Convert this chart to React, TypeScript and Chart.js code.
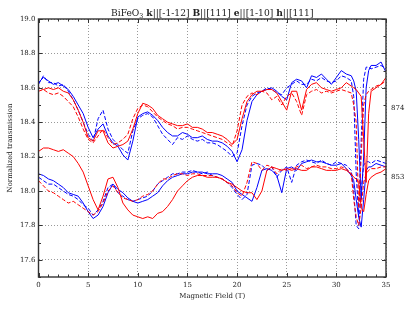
import React, { useEffect, useRef } from "react";
import { Chart, registerables } from "chart.js";

Chart.register(...registerables);

// Magnetic field (T)
const field = [
  0, 0.5, 1, 1.5, 2, 2.5, 3, 3.5, 4, 4.5,
  5, 5.5, 6, 6.5, 7, 7.5, 8, 8.5, 9, 9.5,
  10, 10.5, 11, 11.5, 12, 12.5, 13, 13.5, 14, 14.5,
  15, 15.5, 16, 16.5, 17, 17.5, 18, 18.5, 19, 19.5,
  20, 20.5, 21, 21.5, 22, 22.5, 23, 23.5, 24, 24.5,
  25, 25.5, 26, 26.5, 27, 27.5, 28, 28.5, 29, 29.5,
  30, 30.5, 31, 31.5,
  31.75, 32, 32.25, 32.5, 32.75, 33, 33.25, 33.5,
  34, 34.5, 35,
];

// 874 group
const blue874Solid = [
  18.63, 18.66, 18.64, 18.62, 18.63, 18.61, 18.59, 18.55, 18.50, 18.45,
  18.37, 18.31, 18.36, 18.39, 18.32, 18.28, 18.26, 18.21, 18.18, 18.29,
  18.43, 18.45, 18.46, 18.44, 18.41, 18.37, 18.34, 18.32, 18.32, 18.34,
  18.33, 18.31, 18.31, 18.32, 18.30, 18.29, 18.29, 18.28, 18.26, 18.23,
  18.17, 18.24, 18.41, 18.52, 18.56, 18.58, 18.59, 18.60, 18.58, 18.55,
  18.53, 18.63, 18.65, 18.64, 18.60, 18.67, 18.66, 18.68, 18.65, 18.62,
  18.66, 18.70, 18.68, 18.67,
  18.64, 18.58, 18.30, 17.95, 18.20, 18.60, 18.70, 18.73,
  18.73, 18.75, 18.69,
];
const blue874Dashed = [
  18.62, 18.67, 18.63, 18.63, 18.61, 18.62, 18.58, 18.53, 18.47, 18.40,
  18.33, 18.29, 18.42, 18.47, 18.36, 18.30, 18.27, 18.24, 18.22, 18.35,
  18.42, 18.44, 18.45, 18.43, 18.38, 18.33, 18.30, 18.27, 18.31, 18.30,
  18.32, 18.30, 18.29, 18.30, 18.28, 18.28, 18.27, 18.25, 18.23, 18.20,
  18.22, 18.38, 18.50, 18.55, 18.57, 18.58, 18.60, 18.59, 18.57, 18.56,
  18.60, 18.62, 18.64, 18.62, 18.62, 18.65, 18.64, 18.66, 18.64, 18.63,
  18.64, 18.67, 18.66, 18.64,
  18.55, 18.10, 17.85, 18.30, 18.65, 18.72, 18.72, 18.71,
  18.72, 18.73, 18.71,
];
const red874Solid = [
  18.60, 18.59, 18.60, 18.59, 18.60, 18.58, 18.57, 18.53, 18.47, 18.40,
  18.31, 18.29, 18.35, 18.35, 18.28, 18.25, 18.26, 18.27, 18.29, 18.36,
  18.45, 18.51, 18.50, 18.48, 18.44, 18.42, 18.40, 18.39, 18.38, 18.38,
  18.39, 18.37, 18.37, 18.36, 18.34, 18.34, 18.33, 18.32, 18.30, 18.27,
  18.30, 18.42, 18.52, 18.56, 18.58, 18.58, 18.59, 18.59, 18.57, 18.52,
  18.47, 18.58, 18.58, 18.47, 18.59, 18.62, 18.63, 18.60, 18.59, 18.58,
  18.59, 18.60, 18.63, 18.61,
  18.60, 18.59, 18.57, 18.55, 18.30, 18.05, 18.45, 18.58,
  18.60, 18.62, 18.66,
];
const red874Dashed = [
  18.58, 18.59, 18.57, 18.56, 18.57, 18.55, 18.52, 18.49, 18.43, 18.36,
  18.30, 18.28, 18.32, 18.36, 18.31, 18.27, 18.28, 18.30, 18.33, 18.42,
  18.48, 18.50, 18.49, 18.46, 18.43, 18.41, 18.39, 18.38, 18.36, 18.37,
  18.37, 18.36, 18.35, 18.34, 18.33, 18.32, 18.31, 18.30, 18.28, 18.26,
  18.35, 18.50, 18.55, 18.57, 18.56, 18.58, 18.57, 18.53, 18.55, 18.50,
  18.55, 18.57, 18.52, 18.44, 18.56, 18.58, 18.59, 18.57, 18.58, 18.57,
  18.58, 18.59, 18.58, 18.57,
  18.50, 18.40, 17.90, 18.20, 18.50, 18.56, 18.58, 18.59,
  18.61, 18.62, 18.64,
];

// 853 group
const blue853Solid = [
  18.10, 18.09, 18.07, 18.06, 18.04, 18.02, 17.99, 17.98, 17.97, 17.93,
  17.88, 17.84, 17.86, 17.91, 17.99, 18.04, 18.01, 17.99, 17.96, 17.94,
  17.93, 17.94, 17.95, 17.97, 17.99, 18.03, 18.06, 18.08, 18.09, 18.10,
  18.10, 18.11, 18.11, 18.11, 18.10, 18.10, 18.10, 18.09, 18.07, 18.05,
  18.00, 17.98, 17.96, 17.94, 18.02, 18.12, 18.13, 18.12, 18.09, 17.99,
  18.13, 18.14, 18.12, 18.16, 18.17, 18.18, 18.17, 18.17, 18.16, 18.15,
  18.15, 18.16, 18.13, 18.09,
  18.06, 17.95, 17.85, 17.79, 17.95, 18.12, 18.14, 18.14,
  18.16, 18.15, 18.14,
];
const blue853Dashed = [
  18.08, 18.06, 18.04, 18.04, 18.02, 18.00, 17.98, 17.97, 17.95, 17.92,
  17.90, 17.86, 17.89, 17.94, 18.02, 18.04, 17.99, 17.97, 17.95, 17.94,
  17.95, 17.96, 17.97, 18.00, 18.04, 18.06, 18.08, 18.10, 18.10, 18.11,
  18.11, 18.12, 18.11, 18.10, 18.11, 18.09, 18.08, 18.07, 18.05, 18.02,
  17.98, 17.95, 17.98, 18.15, 18.16, 18.15, 18.12, 18.14, 18.08, 18.12,
  18.14, 18.05, 18.15, 18.17, 18.18, 18.17, 18.16, 18.18, 18.16, 18.15,
  18.17, 18.16, 18.15, 18.12,
  18.00, 17.80, 17.78, 18.00, 18.15, 18.17, 18.17, 18.16,
  18.18, 18.17, 18.16,
];
const red853Solid = [
  18.23, 18.25, 18.25, 18.24, 18.23, 18.24, 18.22, 18.20, 18.16, 18.11,
  18.03, 17.95, 17.89, 17.97, 18.07, 18.08, 18.02, 17.93, 17.89, 17.86,
  17.85, 17.84, 17.85, 17.84, 17.87, 17.88, 17.91, 17.95, 18.00, 18.03,
  18.06, 18.08, 18.09, 18.09, 18.08, 18.08, 18.08, 18.07, 18.05, 18.04,
  18.02, 18.00, 17.99, 17.99, 17.95, 18.00, 18.12, 18.14, 18.13, 18.12,
  18.13, 18.12, 18.13, 18.12, 18.12, 18.14, 18.14, 18.13, 18.12, 18.12,
  18.12, 18.13, 18.12, 18.10,
  18.08, 18.07, 18.05, 17.90, 17.88, 17.98, 18.06, 18.08,
  18.10, 18.11, 18.13,
];
const red853Dashed = [
  18.06, 18.03, 18.00, 17.99, 17.97, 17.95, 17.93, 17.94, 17.92, 17.90,
  17.88, 17.86, 17.88, 17.93, 18.00, 18.03, 17.99, 17.96, 17.95, 17.94,
  17.95, 17.97, 17.98, 18.00, 18.04, 18.07, 18.07, 18.09, 18.10, 18.10,
  18.09, 18.10, 18.10, 18.09, 18.09, 18.09, 18.08, 18.07, 18.05, 18.03,
  17.99, 17.97, 18.05, 18.17, 18.16, 18.12, 18.15, 18.14, 18.10, 18.13,
  18.12, 18.13, 18.14, 18.15, 18.13, 18.14, 18.15, 18.14, 18.14, 18.13,
  18.13, 18.14, 18.13, 18.10,
  17.95, 17.85, 17.80, 17.90, 18.05, 18.10, 18.12, 18.13,
  18.13, 18.14, 18.14,
];

const xTicks = [0, 5, 10, 15, 20, 25, 30, 35];
const yTicks = [17.6, 17.8, 18.0, 18.2, 18.4, 18.6, 18.8, 19.0];
const groupLabels = ["874", "853"];
const groupLabelValues = [18.484, 18.079];

const titleParts = [
  { text: "BiFeO", bold: false, sub: false },
  { text: "3", bold: false, sub: true },
  { text: " ", bold: false, sub: false },
  { text: "k", bold: true, sub: false },
  { text: "||[-1-12] ", bold: false, sub: false },
  { text: "B", bold: true, sub: false },
  { text: "||[111] ", bold: false, sub: false },
  { text: "e", bold: true, sub: false },
  { text: "||[1-10] ", bold: false, sub: false },
  { text: "h", bold: true, sub: false },
  { text: "||[111]", bold: false, sub: false },
];

const FONT = '"DejaVu Serif", "Liberation Serif", serif';
const TEXT = "#222";

const framePlugin = {
  id: "framePlugin",
  afterDraw(chart: any) {
    const { ctx, chartArea: a, scales } = chart;
    const xs = scales.x;
    const ys = scales.y;
    ctx.save();
    // inward ticks
    ctx.strokeStyle = "#333";
    ctx.lineWidth = 1;
    ctx.beginPath();
    for (let v = 0; v <= 35; v += 1) {
      const px = Math.round(xs.getPixelForValue(v)) + 0.5;
      const len = v % 5 === 0 ? 4 : 2.5;
      ctx.moveTo(px, a.bottom);
      ctx.lineTo(px, a.bottom - len);
      ctx.moveTo(px, a.top);
      ctx.lineTo(px, a.top + len);
    }
    for (let k = 175; k <= 190; k += 1) {
      const v = k / 10;
      const py = Math.round(ys.getPixelForValue(v)) + 0.5;
      const len = k % 2 === 0 ? 4 : 2.5;
      ctx.moveTo(a.left, py);
      ctx.lineTo(a.left + len, py);
      ctx.moveTo(a.right, py);
      ctx.lineTo(a.right - len, py);
    }
    ctx.stroke();
    // frame
    ctx.lineWidth = 1.4;
    ctx.strokeStyle = "#333";
    ctx.strokeRect(a.left, a.top, a.right - a.left, a.bottom - a.top);

    // title
    const baseSize = 10;
    const measure = (size: number) => {
      let w = 0;
      for (const p of titleParts) {
        const s = p.sub ? size * 0.7 : size;
        ctx.font = `${p.bold ? "bold " : ""}${s}px ${FONT}`;
        w += ctx.measureText(p.text).width;
      }
      return w;
    };
    let size = baseSize;
    const w0 = measure(baseSize);
    size = baseSize * Math.min(1.1, 203 / w0);
    const total = measure(size);
    let x = (a.left + a.right) / 2 - total / 2;
    const baseY = 15.5;
    ctx.fillStyle = TEXT;
    ctx.textBaseline = "alphabetic";
    ctx.textAlign = "left";
    for (const p of titleParts) {
      const s = p.sub ? size * 0.7 : size;
      ctx.font = `${p.bold ? "bold " : ""}${s}px ${FONT}`;
      ctx.fillText(p.text, x, p.sub ? baseY + 2 : baseY);
      x += ctx.measureText(p.text).width;
    }

    // group labels
    ctx.font = `7px ${FONT}`;
    ctx.textBaseline = "middle";
    groupLabels.forEach((t, i) => {
      ctx.fillText(t, a.right + 5, ys.getPixelForValue(groupLabelValues[i]));
    });
    ctx.restore();
  },
};

function mk(label: string, data: number[], color: string, dashed: boolean) {
  return {
    label,
    data: field.map((x, i) => ({ x, y: data[i] })),
    borderColor: color,
    backgroundColor: color,
    borderWidth: 1,
    borderDash: dashed ? [4, 2] : [],
    pointRadius: 0,
    fill: false,
    tension: 0,
  };
}

export default function App() {
  const ref = useRef<HTMLCanvasElement | null>(null);
  useEffect(() => {
    if (!ref.current) return;
    const chart = new Chart(ref.current, {
      type: "line",
      data: {
        datasets: [
          mk("874 red", red874Solid, "#ff0000", false),
          mk("874 red dashed", red874Dashed, "#ff0000", true),
          mk("853 red", red853Solid, "#ff0000", false),
          mk("853 red dashed", red853Dashed, "#ff0000", true),
          mk("874 blue", blue874Solid, "#0000ff", false),
          mk("874 blue dashed", blue874Dashed, "#0000ff", true),
          mk("853 blue", blue853Solid, "#0000ff", false),
          mk("853 blue dashed", blue853Dashed, "#0000ff", true),
        ] as any,
      },
      options: {
        animation: false,
        responsive: false,
        devicePixelRatio: 1,
        layout: { padding: { left: 0, top: 19, right: 29, bottom: 0 } },
        plugins: {
          legend: { display: false },
          tooltip: { enabled: false },
        },
        scales: {
          x: {
            type: "linear",
            min: 0,
            max: 35,
            afterBuildTicks: (axis: any) => {
              axis.ticks = xTicks.map((v) => ({ value: v }));
            },
            afterFit: (axis: any) => {
              axis.height = 33;
            },
            ticks: {
              color: TEXT,
              font: { family: FONT, size: 7 },
              padding: 4,
              maxRotation: 0,
              callback: (v: any) => String(v),
            },
            grid: { color: "#999", lineWidth: 1, drawTicks: false },
            border: { display: false, dash: [1, 2] },
            title: {
              display: true,
              text: "Magnetic Field (T)",
              color: TEXT,
              font: { family: FONT, size: 7 },
              padding: { top: 0, bottom: 10 },
            },
          },
          y: {
            type: "linear",
            min: 17.5,
            max: 19.0,
            afterBuildTicks: (axis: any) => {
              axis.ticks = yTicks.map((v) => ({ value: v }));
            },
            afterFit: (axis: any) => {
              axis.width = 38.5;
            },
            ticks: {
              color: TEXT,
              font: { family: FONT, size: 7 },
              padding: 3,
              callback: (v: any) => Number(v).toFixed(1),
            },
            grid: { color: "#999", lineWidth: 1, drawTicks: false },
            border: { display: false, dash: [1, 2] },
            title: {
              display: true,
              text: "Normalized transmission",
              color: TEXT,
              font: { family: FONT, size: 7 },
              padding: { top: 6, bottom: 0 },
            },
          },
        },
      } as any,
      plugins: [framePlugin],
    });
    return () => chart.destroy();
  }, []);
  return (
    <div style={{ position: "absolute", left: 0, top: 0, width: 415, height: 310, background: "#fff" }}>
      <canvas ref={ref} width={415} height={310} style={{ display: "block" }} />
    </div>
  );
}
